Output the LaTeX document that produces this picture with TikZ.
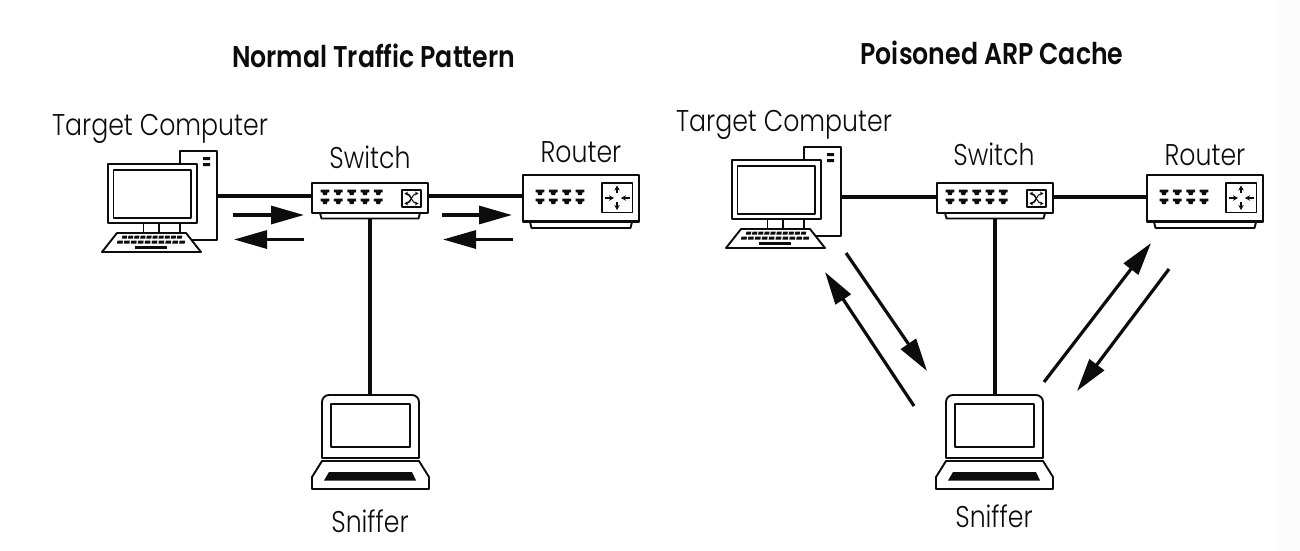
\documentclass[tikz,border=0pt]{standalone}
\usepackage{fontspec}
\usetikzlibrary{arrows.meta}
\setmainfont[FakeStretch=0.84]{Poppins}
\newfontfamily\labfont[FakeStretch=0.84]{Poppins Light}
\newfontfamily\ttlfont[FakeStretch=0.84]{Poppins SemiBold}
\definecolor{ink}{HTML}{0C0C0C}
\tikzset{
  x=1pt,y=-1pt,
  outl/.style={draw=ink,line width=1.9pt,line join=round},
  wire/.style={draw=ink,line width=3.2pt},
  flow/.style={draw=ink,line width=3.2pt,-{Triangle[length=33pt,width=18pt]}},
  lab/.style={font=\labfont\fontsize{30}{30}\selectfont,text=ink,inner sep=0pt,anchor=base},
  ttl/.style={font=\ttlfont\fontsize{30}{30}\selectfont,text=ink,inner sep=0pt,anchor=base},
  devbox/.style={outl,rectangle,inner sep=0pt,outer sep=0pt,fill=white},
  tiny/.style={draw=ink,line width=1pt,-{Stealth[length=3.5pt,width=3.8pt]}},
  rtiny/.style={draw=ink,line width=1.4pt,-{Stealth[length=5pt,width=5.5pt]}},
  computerdev/.pic={
    \node[devbox,minimum width=37pt,minimum height=89pt] (tower) at (198.5,195.5) {};
    \fill[ink] (203,157) rectangle (210,160) (203,163) rectangle (210,166);
    \draw[outl,fill=white] (108,164) rectangle (197,223);
    \draw[outl] (113.5,170) rectangle (191,218);
    \draw[outl] (143.5,223) -- (143.5,233) (159,223) -- (159,233);
    \draw[outl] (180,223) -- (180,233);
    \draw[outl,fill=white] (117,233) -- (186,233) -- (201,252) -- (102,252) -- cycle;
    \foreach \i in {0,...,9}{
      \pgfmathsetmacro\xa{122.5+\i*6.1}
      \pgfmathsetmacro\xb{117.5+\i*6.9}
      \fill[ink] (\xa,235.5) -- ++(4.8,0) -- ++(-.5,3.2) -- ++(-5,0) -- cycle;
      \fill[ink] (\xb,240.5) -- ++(5.4,0) -- ++(-.3,3.2) -- ++(-5.6,0) -- cycle;
    }
    \fill[ink] (135,245.8) rectangle (167,248.6);
  },
  ports/.pic={
    \fill[ink] (-4.4,-3) -- (4.4,-3) -- (4.4,-.2) -- (2.6,-.2) -- (1.8,2.6) -- (-1.8,2.6) -- (-2.6,-.2) -- (-4.4,-.2) -- cycle;
  },
  switchdev/.pic={
    \draw[outl,fill=white] (320,213) -- (321.5,218.5) -- (418.5,218.5) -- (420,213);
    \node[devbox,minimum width=116pt,minimum height=30pt] (box) at (370,198) {};
    \foreach \px in {325,338.3,351.7,365,378.3}{
      \pic at (\px,192.5) {ports};
      \pic at (\px,201.5) {ports};
    }
    \draw[outl,line width=1.6pt] (402,190) rectangle (421,207);
    \draw[tiny] (405,193.5) .. controls (411,193.5) and (412,203.5) .. (418.5,203.5);
    \draw[tiny] (405,203.5) .. controls (411,203.5) and (412,193.5) .. (418.5,193.5);
    \draw[tiny] (411.5,198.5) .. controls (410,195) and (408,193.5) .. (404.5,193.5);
    \draw[tiny] (411.5,198.5) .. controls (410,202) and (408,203.5) .. (404.5,203.5);
  },
  routerdev/.pic={
    \draw[outl,fill=white] (530,222) -- (531.5,228) -- (630.5,228) -- (632,222);
    \node[devbox,minimum width=116pt,minimum height=47pt] (box) at (581,198.5) {};
    \draw[ink,line width=2.6pt] (523,221.5) -- (639,221.5);
    \foreach \px in {540,553.3,566.7,580}{
      \pic at (\px,192.5) {ports};
      \pic at (\px,201.5) {ports};
    }
    \draw[outl,line width=1.8pt] (602,183) rectangle (632.5,212.5);
    \draw[rtiny] (617,193) -- (617,185.5);
    \draw[rtiny] (617,202) -- (617,210);
    \draw[rtiny] (604.5,198) -- (614,198);
    \draw[rtiny] (630,198) -- (621,198);
  },
  laptopdev/.pic={
    \node[rectangle,inner sep=0pt,outer sep=0pt,minimum width=97pt,minimum height=63pt] (box) at (370.5,426.5) {};
    \draw[outl] (322,458) -- (322,403) [rounded corners=7pt] -- (322,395) -- (419,395) [sharp corners] -- (419,403) -- (419,458) -- cycle;
    \draw[outl] (331,404) rectangle (410,447);
    \draw[outl,fill=white] (322,461) -- (419,461) -- (429,477) -- (429,489) -- (312,489) -- (312,477) -- cycle;
    \fill[ink] (329,472) -- (412,472) -- (416,480.5) -- (324,480.5) -- cycle;
  }
}
\begin{document}
\begin{tikzpicture}
\useasboundingbox (0,0) rectangle (1300,550);
\fill[white] (0,0) rectangle (1300,550);
\fill[black!1] (1277,0) rectangle (1300,550);

% left panel
\node[ttl] (t1) at (373.5,67) {Normal Traffic Pattern};
\node[lab] (lpc1) at (160,135) {Target Computer};
\node[lab] (lsw1) at (370,168) {Switch};
\node[lab] (lrt1) at (581,162) {Router};
\node[lab] (lsn1) at (370,532) {Sniffer};
\pic (pcA) at (0,0) {computerdev};
\pic (swA) at (0,0) {switchdev};
\pic (rtA) at (0,0) {routerdev};
\pic (lpA) at (0,0) {laptopdev};
\draw[wire] (pcAtower.east |- 0,196) -- (swAbox.west |- 0,196);
\draw[wire] (swAbox.east |- 0,196) -- (rtAbox.west |- 0,196);
\draw[wire] (swAbox.south |- 0,219) -- (lpAbox.north -| swAbox.south);
\coordinate (a1) at (233,215); \coordinate (a2) at (304,215);
\coordinate (b1) at (304,239.5); \coordinate (b2) at (234,239.5);
\coordinate (c1) at (442,215); \coordinate (c2) at (512,215);
\coordinate (d1) at (513,239.5); \coordinate (d2) at (443,239.5);
\draw[flow] (a1) -- (a2);
\draw[flow] (b1) -- (b2);
\draw[flow] (c1) -- (c2);
\draw[flow] (d1) -- (d2);

% right panel
\node[ttl] (t2) at (992,64) {Poisoned ARP Cache};
\node[lab] (lpc2) at (784,131) {Target Computer};
\node[lab] (lsw2) at (994,165) {Switch};
\node[lab] (lrt2) at (1205,165) {Router};
\node[lab] (lsn2) at (994,527) {Sniffer};
\pic (pcB) at (624,-4) {computerdev};
\pic (swB) at (625,0) {switchdev};
\pic (rtB) at (624,0) {routerdev};
\pic (lpB) at (624,0) {laptopdev};
\draw[wire] (pcBtower.east |- 0,197) -- (swBbox.west |- 0,197);
\draw[wire] (swBbox.east |- 0,197) -- (rtBbox.west |- 0,197);
\draw[wire] (swBbox.south |- 0,219) -- (lpBbox.north -| swBbox.south);
\coordinate (e1) at (846,253); \coordinate (e2) at (927,371);
\coordinate (f1) at (914,406); \coordinate (f2) at (825,272);
\coordinate (g1) at (1044,382); \coordinate (g2) at (1151,243);
\coordinate (h1) at (1169,269); \coordinate (h2) at (1077,391);
\draw[flow] (e1) -- (e2);
\draw[flow] (f1) -- (f2);
\draw[flow] (g1) -- (g2);
\draw[flow] (h1) -- (h2);
\end{tikzpicture}
\end{document}
